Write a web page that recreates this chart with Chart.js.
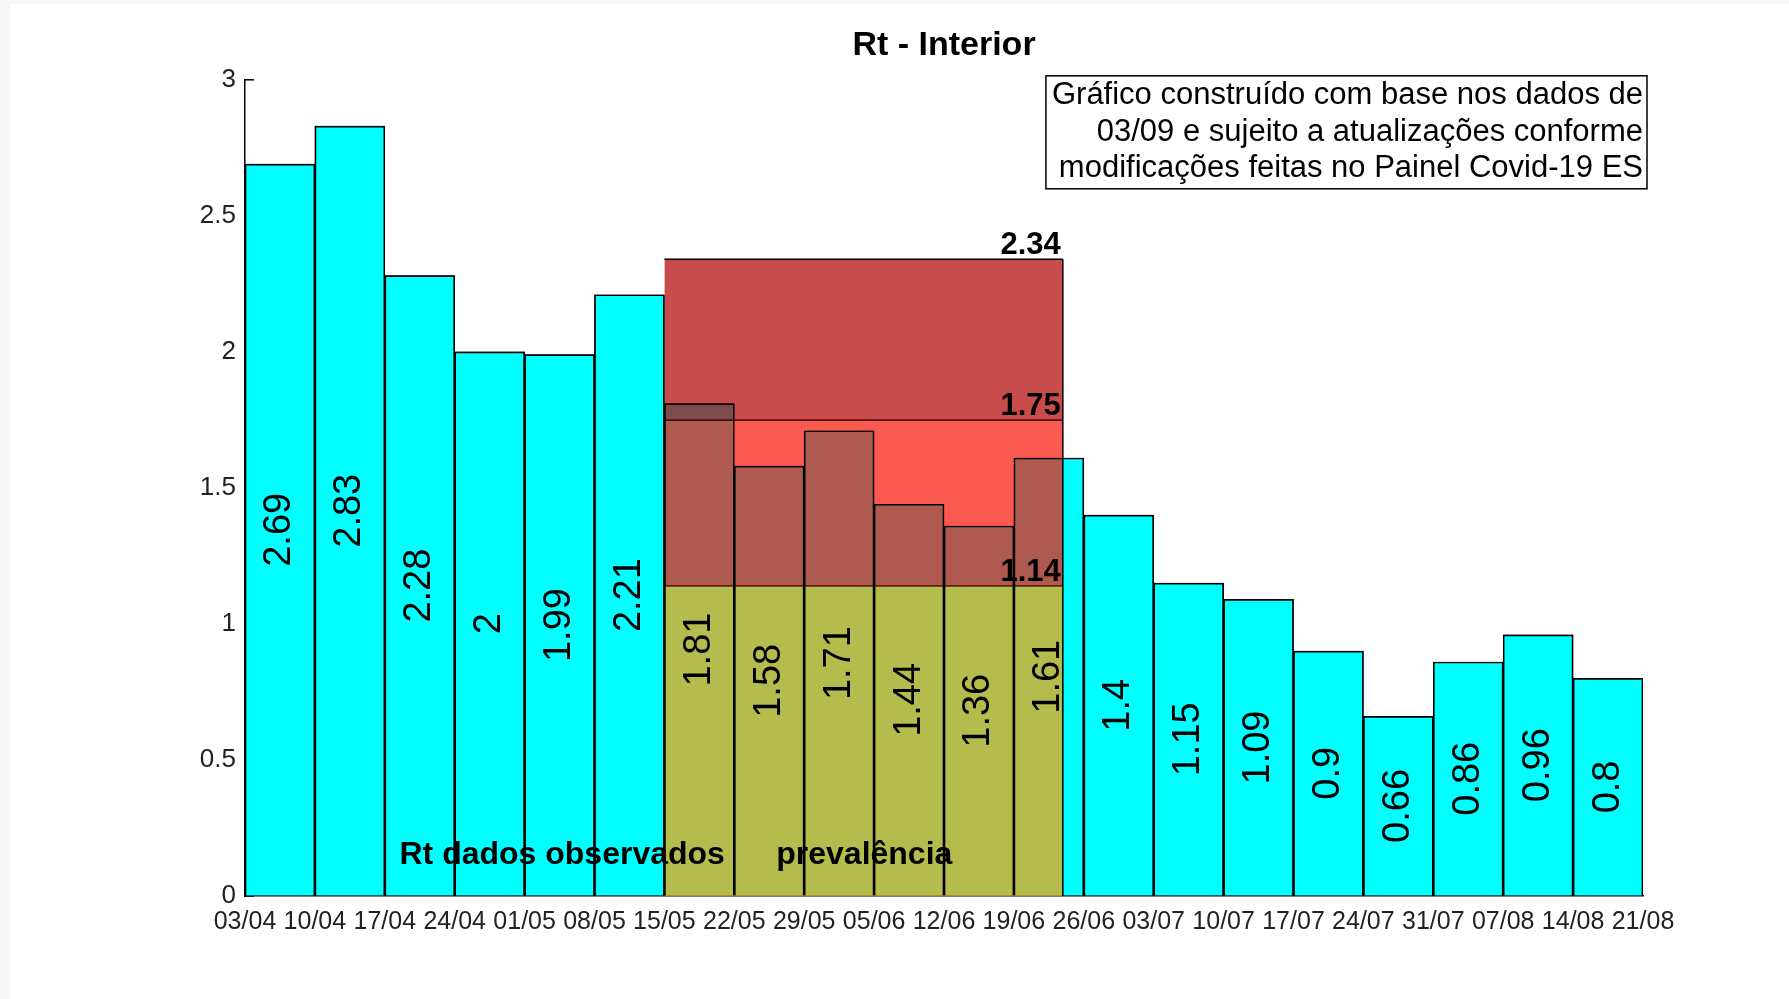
<!DOCTYPE html>
<html>
<head>
<meta charset="utf-8">
<script src="https://cdn.jsdelivr.net/npm/chart.js@4.4.0/dist/chart.umd.min.js"></script>
<style>
  body { margin: 0; background: #f7f7f7; }
  #wrap { position: absolute; left: 10px; top: 4px; width: 1779px; height: 995px; background: #fff; }
</style>
</head>
<body>
<div id="wrap"><canvas id="chart" width="1779" height="995"></canvas></div>
<script>
// week boundaries (tick labels sit on the bar edges)
const tickDates = ['03/04','10/04','17/04','24/04','01/05','08/05','15/05','22/05','29/05','05/06',
  '12/06','19/06','26/06','03/07','10/07','17/07','24/07','31/07','07/08','14/08','21/08'];
const weekLabels = tickDates.slice(0, 20);
const rtValues = [2.69, 2.83, 2.28, 2, 1.99, 2.21, 1.81, 1.58, 1.71, 1.44,
  1.36, 1.61, 1.4, 1.15, 1.09, 0.9, 0.66, 0.86, 0.96, 0.8];

// prevalence band (x in week-edge units)
const bandStart = 6;
const bandEnd = 11.7;
const bandLevels = [1.14, 1.75, 2.34];

const noteLines = [
  'Gráfico construído com base nos dados de',
  '03/09 e sujeito a atualizações conforme',
  'modificações feitas no Painel Covid-19 ES'
];
const regionTexts = [
  { text: 'Rt dados observados', x: 2.21, y: 0.118 },
  { text: 'prevalência', x: 7.6, y: 0.118 }
];

const FONT = '"Liberation Sans", Arial, sans-serif';
Chart.defaults.font.family = FONT;
Chart.defaults.color = '#000';

const bandLine = (lvl) => [{ x: bandStart, y: lvl }, { x: bandEnd, y: lvl }];

const decorations = {
  id: 'decorations',
  beforeDatasetsDraw(chart) {
    const { ctx, chartArea, scales } = chart;
    ctx.save();
    ctx.strokeStyle = '#000';
    ctx.lineWidth = 1.5;
    scales.y.ticks.forEach(t => {
      const py = scales.y.getPixelForValue(t.value);
      ctx.beginPath();
      ctx.moveTo(chartArea.left, py);
      ctx.lineTo(chartArea.left + 9, py);
      ctx.stroke();
    });
    ctx.restore();
  },
  afterDatasetsDraw(chart) {
    const { ctx, scales } = chart;
    const x2 = scales.x2, y = scales.y;
    ctx.save();
    // values inside bars
    ctx.fillStyle = '#000';
    ctx.font = '38px ' + FONT;
    ctx.textAlign = 'center';
    ctx.textBaseline = 'middle';
    chart.getDatasetMeta(0).data.forEach((bar, i) => {
      ctx.save();
      ctx.translate(bar.x, (bar.y + bar.base) / 2);
      ctx.rotate(-Math.PI / 2);
      ctx.fillText(String(rtValues[i]), 0, 0);
      ctx.restore();
    });
    // band level labels
    ctx.font = 'bold 31px ' + FONT;
    ctx.textAlign = 'right';
    ctx.textBaseline = 'alphabetic';
    bandLevels.forEach(l => {
      ctx.fillText(l.toFixed(2), x2.getPixelForValue(bandEnd) - 2, y.getPixelForValue(l) - 5);
    });
    // region captions
    ctx.font = 'bold 32px ' + FONT;
    ctx.textAlign = 'left';
    regionTexts.forEach(r => {
      ctx.fillText(r.text, x2.getPixelForValue(r.x), y.getPixelForValue(r.y));
    });
    ctx.restore();
  },
  afterDraw(chart) {
    const { ctx, chartArea } = chart;
    ctx.save();
    ctx.font = '31px ' + FONT;
    const w = Math.max(...noteLines.map(s => ctx.measureText(s).width)) + 10;
    const right = chartArea.right + 4, top = chartArea.top - 4;
    ctx.fillStyle = '#fff';
    ctx.fillRect(right - w, top, w, 113);
    ctx.strokeStyle = '#000';
    ctx.lineWidth = 1.5;
    ctx.strokeRect(right - w, top, w, 113);
    ctx.fillStyle = '#000';
    ctx.textAlign = 'right';
    ctx.textBaseline = 'middle';
    noteLines.forEach((s, i) => ctx.fillText(s, right - 4, top + 20 + i * 36.5));
    ctx.restore();
  }
};

const ctx = document.getElementById('chart').getContext('2d');
new Chart(ctx, {
  type: 'bar',
  data: {
    labels: weekLabels,
    datasets: [
      { type: 'bar', data: rtValues, backgroundColor: '#00ffff', borderColor: '#000', borderWidth: 1,
        barPercentage: 1, categoryPercentage: 1, grouped: false, order: 6 },
      { type: 'line', xAxisID: 'x2', data: bandLine(bandLevels[0]), borderColor: '#000', borderWidth: 1.5,
        pointRadius: 0, fill: 'origin', backgroundColor: 'rgba(255,160,0,0.7)', order: 4 },
      { type: 'line', xAxisID: 'x2', data: bandLine(bandLevels[1]), borderColor: '#000', borderWidth: 1.5,
        pointRadius: 0, fill: { value: bandLevels[0] }, backgroundColor: 'rgba(248,20,5,0.7)', order: 3 },
      { type: 'line', xAxisID: 'x2', data: bandLine(bandLevels[2]), borderColor: '#000', borderWidth: 1.5,
        pointRadius: 0, fill: { value: bandLevels[1] }, backgroundColor: 'rgba(176,0,0,0.7)', order: 2 },
      { type: 'line', xAxisID: 'x2', data: [{ x: bandEnd, y: 0 }, { x: bandEnd, y: bandLevels[2] }],
        borderColor: '#000', borderWidth: 1.5, pointRadius: 0, fill: false, order: 1 },
      { type: 'bar', data: rtValues, backgroundColor: 'rgba(0,0,0,0)', borderColor: '#000', borderWidth: 1,
        barPercentage: 1, categoryPercentage: 1, grouped: false, order: 0 }
    ]
  },
  options: {
    responsive: false,
    animation: false,
    layout: { padding: { left: 0, right: 146, top: 0, bottom: 0 } },
    plugins: {
      legend: { display: false },
      tooltip: { enabled: false },
      title: {
        display: true,
        text: 'Rt - Interior',
        fullSize: false,
        color: '#000',
        font: { size: 34, weight: 'bold' },
        padding: { top: 21, bottom: 14 }
      }
    },
    scales: {
      x: { display: false, offset: true },
      x2: {
        type: 'linear', position: 'bottom', min: 0, max: 20, offset: false,
        grid: { display: false, drawTicks: false, offset: false },
        border: { display: true, color: '#000', width: 1.5 },
        ticks: {
          stepSize: 1, autoSkip: false, maxRotation: 0, padding: 11,
          color: '#222', font: { size: 25 },
          callback: v => tickDates[Math.round(v)] ?? ''
        },
        afterFit: s => { s.height = 103; }
      },
      y: {
        min: 0, max: 3, z: 1,
        grid: { drawOnChartArea: false, drawTicks: false },
        border: { display: true, color: '#000', width: 1.5 },
        ticks: { stepSize: 0.5, padding: 9, color: '#222', font: { size: 26 }, callback: v => String(v) },
        afterFit: s => { s.width = 235; }
      }
    }
  },
  plugins: [decorations]
});
</script>
</body>
</html>
